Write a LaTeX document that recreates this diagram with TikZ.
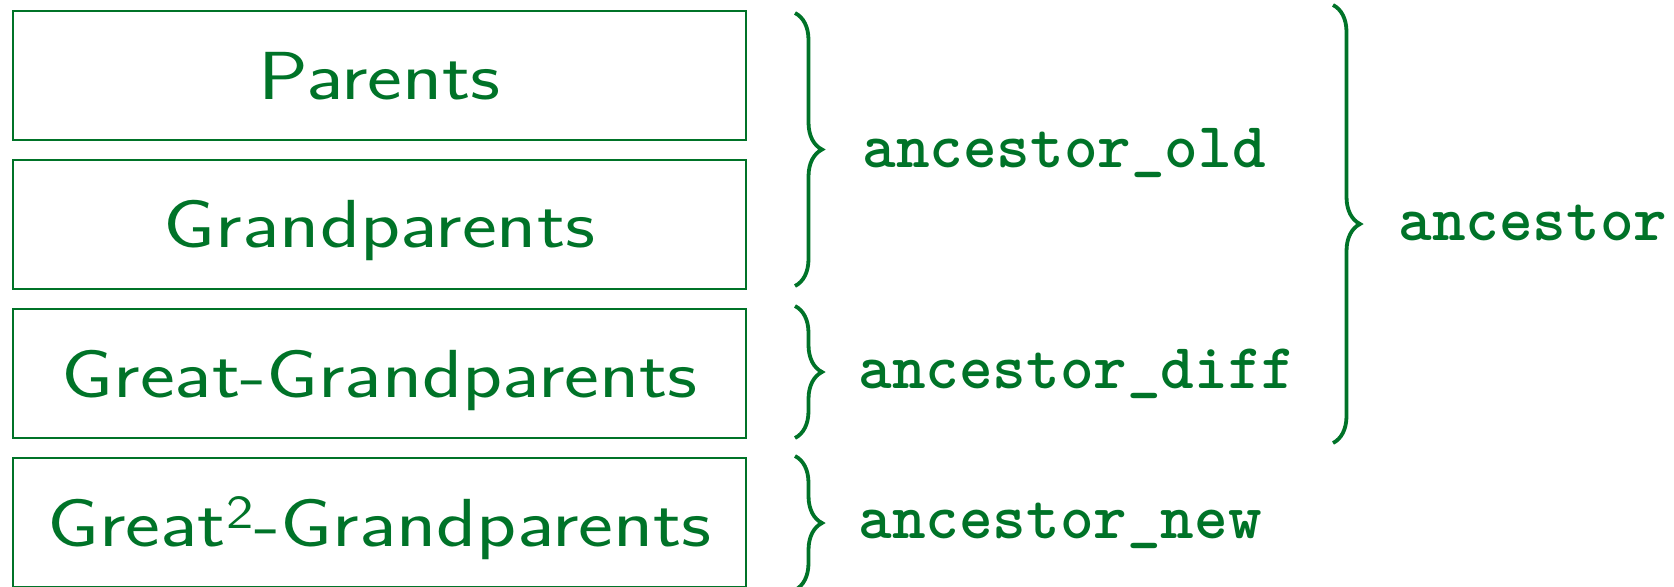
\documentclass[tikz,border=0pt]{standalone}
\usetikzlibrary{decorations.pathreplacing}
\definecolor{dgreen}{RGB}{0,115,40}
\newcommand{\wide}[1]{\scalebox{1.22}[1]{#1}}
\begin{document}
\begin{tikzpicture}[x=0.5pt,y=-0.5pt,
  box/.style={draw=dgreen,line width=1pt,minimum width=366.5pt,minimum height=64.5pt,
    inner sep=0pt,text=dgreen,font=\sffamily\fontsize{34}{36}\selectfont,
    text height=23.6pt,text depth=0pt},
  tlbl/.style={text=dgreen,font=\ttfamily\bfseries\fontsize{32}{34}\selectfont,anchor=base west,inner sep=0pt},
  brc/.style={draw=dgreen,line width=1.9pt,decorate,decoration={brace,amplitude=13.5pt}}]
\useasboundingbox (0,0) rectangle (1674,586);
\node[box] (p)  at (379.5,75.5)  {\wide{Parents}};
\node[box] (gp) at (379.5,224)   {\wide{Grandparents}};
\node[box] (ggp) at (379.5,373.5) {\wide{Great-Grandparents}};
\node[box] (g2p) at (379.5,522.5) {\wide{Great\textsuperscript{2}-Grandparents}};
% braces
\coordinate (b1t) at (795,13);  \coordinate (b1b) at (795,286);
\coordinate (b2t) at (795,306); \coordinate (b2b) at (795,438);
\coordinate (b3t) at (795,456); \coordinate (b3b) at (795,590);
\coordinate (b4t) at (1333,5);  \coordinate (b4b) at (1333,443);
\draw[brc] (b1t) -- (b1b);
\draw[brc] (b2t) -- (b2b);
\draw[brc] (b3t) -- (b3b);
\draw[brc] (b4t) -- (b4b);
\node[tlbl] (lold)  at (862,167)  {ancestor\_old};
\node[tlbl] (ldiff) at (858,388)  {ancestor\_diff};
\node[tlbl] (lnew)  at (858,538)  {ancestor\_new};
\node[tlbl] (lanc)  at (1398,240) {ancestor};
\end{tikzpicture}
\end{document}
